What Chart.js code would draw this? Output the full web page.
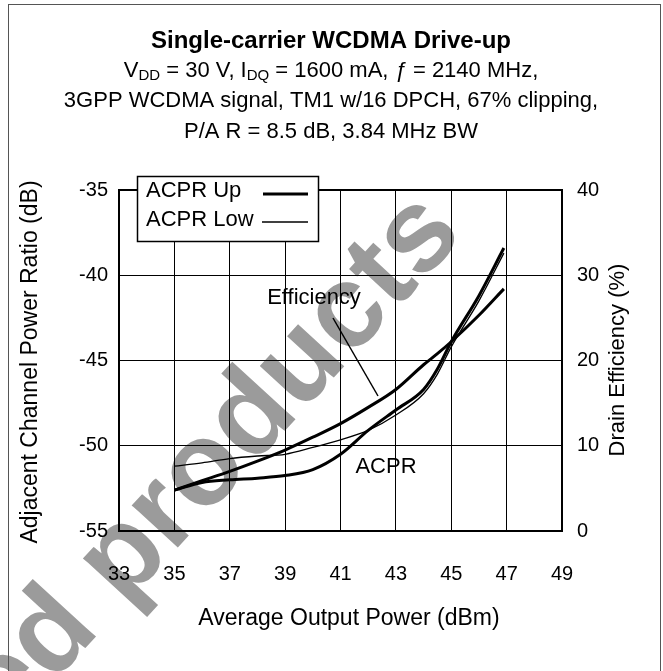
<!DOCTYPE html>
<html>
<head>
<meta charset="utf-8">
<script src="https://cdn.jsdelivr.net/npm/chart.js@4/dist/chart.umd.min.js"></script>
<style>
  body { margin: 0; background: #fff; }
  canvas { display: block; }
</style>
</head>
<body>
<canvas id="driveUp" width="663" height="671"></canvas>
<script>
const ctx = document.getElementById("driveUp");

// dados
const potencia = [35, 36, 37, 38, 39, 40, 41, 42, 43, 44, 44.5, 45, 46, 46.9];
const acprUp = [-52.6, -52.15, -52.0, -51.9, -51.75, -51.4, -50.5, -49.1, -47.9, -46.7, -45.5, -43.9, -41.2, -38.4];
const acprLow = [-51.2, -51.0, -50.75, -50.6, -50.5, -50.1, -49.65, -49.1, -48.2, -46.95, -45.8, -44.2, -41.5, -38.7];
const eficiencia = [4.8, 5.9, 7.0, 8.2, 9.5, 11.0, 12.6, 14.5, 16.6, 19.5, 20.8, 22.2, 25.3, 28.4];

const xTicks = [33, 35, 37, 39, 41, 43, 45, 47, 49];
const yTicks = [-55, -50, -45, -40, -35];
const y2Ticks = [0, 10, 20, 30, 40];

const fonte = '"Liberation Sans", Arial, sans-serif';

function pontos(ys) {
  return potencia.map((x, i) => ({ x: x, y: ys[i] }));
}

function linhaRica(c, partes, cx, y) {
  let total = 0;
  partes.forEach(p => { c.font = p.f; total += c.measureText(p.t).width; });
  let x = cx - total / 2;
  partes.forEach(p => {
    c.font = p.f;
    c.fillText(p.t, x, y + (p.dy || 0));
    x += c.measureText(p.t).width;
  });
}

const desenho = {
  id: "desenho",
  beforeDraw(chart) {
    const c = chart.ctx;
    // marca d'agua
    c.save();
    c.translate(8, 732);
    c.rotate(-47.4 * Math.PI / 180);
    c.fillStyle = "#9b9b9b";
    c.font = "bold 118px " + fonte;
    c.textBaseline = "alphabetic";
    c.fillText("ed products", 0, 0);
    c.restore();
    // moldura
    c.save();
    c.strokeStyle = "#555";
    c.lineWidth = 1;
    c.strokeRect(8.5, 4.5, 652, 700);
    c.restore();
  },
  beforeDatasetsDraw(chart) {
    const c = chart.ctx;
    const a = chart.chartArea;
    c.save();
    c.strokeStyle = "#000";
    c.lineWidth = 2;
    c.strokeRect(a.left, a.top, a.right - a.left, a.bottom - a.top);
    c.restore();
  },
  afterDraw(chart) {
    const c = chart.ctx;
    c.save();
    c.fillStyle = "#000";
    c.textAlign = "center";
    c.textBaseline = "middle";

    // titulo
    c.font = "bold 24px " + fonte;
    c.fillText("Single-carrier WCDMA Drive-up", 331, 41);
    c.textAlign = "left";
    const f = "22px " + fonte;
    const fs = "15px " + fonte;
    linhaRica(c, [
      { t: "V", f: f }, { t: "DD", f: fs, dy: 5 },
      { t: " = 30 V, I", f: f }, { t: "DQ", f: fs, dy: 5 },
      { t: " = 1600 mA, ", f: f }, { t: "ƒ", f: "italic 22px " + fonte },
      { t: " = 2140 MHz,", f: f }
    ], 331, 71);
    c.textAlign = "center";
    c.font = f;
    c.fillText("3GPP WCDMA signal, TM1 w/16 DPCH, 67% clipping,", 331, 101);
    c.fillText("P/A R = 8.5 dB, 3.84 MHz BW", 331, 132);

    // titulos dos eixos
    c.font = "23px " + fonte;
    c.fillText("Average Output Power (dBm)", 349, 619);
    c.save();
    c.translate(31, 362);
    c.rotate(-Math.PI / 2);
    c.fillText("Adjacent Channel Power Ratio (dB)", 0, 0);
    c.restore();
    c.save();
    c.translate(618, 360);
    c.rotate(-Math.PI / 2);
    c.font = "22px " + fonte;
    c.fillText("Drain Efficiency (%)", 0, 0);
    c.restore();

    // legenda
    c.fillStyle = "#fff";
    c.fillRect(137, 176, 182, 66);
    c.strokeStyle = "#000";
    c.lineWidth = 1.5;
    c.strokeRect(137.5, 176.5, 181, 65);
    c.fillStyle = "#000";
    c.textAlign = "left";
    c.font = "22px " + fonte;
    const ds = chart.data.datasets;
    c.fillText(ds[0].label, 146, 191);
    c.fillText(ds[1].label, 146, 220);
    c.lineWidth = 3;
    c.beginPath(); c.moveTo(263, 194); c.lineTo(308, 194); c.stroke();
    c.lineWidth = 1.3;
    c.beginPath(); c.moveTo(262, 222); c.lineTo(308, 222); c.stroke();

    // anotacoes
    c.textAlign = "center";
    c.fillText(ds[2].label, 314, 298);
    c.fillText("ACPR", 386, 467);
    c.lineWidth = 1.5;
    c.beginPath(); c.moveTo(333, 318); c.lineTo(378, 396); c.stroke();
    c.restore();
  }
};

new Chart(ctx, {
  type: "line",
  data: {
    datasets: [
      {
        label: "ACPR Up",
        data: pontos(acprUp),
        borderColor: "#000",
        borderWidth: 3,
        yAxisID: "y",
      },
      {
        label: "ACPR Low",
        data: pontos(acprLow),
        borderColor: "#000",
        borderWidth: 1.3,
        yAxisID: "y",
      },
      {
        label: "Efficiency",
        data: pontos(eficiencia),
        borderColor: "#000",
        borderWidth: 3,
        yAxisID: "y2",
      },
    ],
  },
  options: {
    responsive: false,
    animation: false,
    devicePixelRatio: 1,
    layout: { padding: { top: 190, left: 0, right: 0, bottom: 0 } },
    elements: {
      point: { radius: 0 },
      line: { cubicInterpolationMode: "monotone", fill: false },
    },
    plugins: {
      legend: { display: false },
      title: { display: false },
      tooltip: { enabled: false },
    },
    scales: {
      x: {
        type: "linear",
        min: 33,
        max: 49,
        afterFit: (s) => { s.height = 140; },
        afterBuildTicks: (s) => { s.ticks = xTicks.map((v) => ({ value: v })); },
        grid: { color: "#000", lineWidth: 1, drawTicks: false },
        border: { display: false },
        ticks: { color: "#000", padding: 31, font: { family: fonte, size: 20 } },
      },
      y: {
        position: "left",
        min: -55,
        max: -35,
        afterFit: (s) => { s.width = 119; },
        afterBuildTicks: (s) => { s.ticks = yTicks.map((v) => ({ value: v })); },
        grid: { color: "#000", lineWidth: 1, drawTicks: false },
        border: { display: false },
        ticks: { color: "#000", padding: 11, font: { family: fonte, size: 20 } },
      },
      y2: {
        position: "right",
        min: 0,
        max: 40,
        afterFit: (s) => { s.width = 101; },
        afterBuildTicks: (s) => { s.ticks = y2Ticks.map((v) => ({ value: v })); },
        grid: { display: false, drawTicks: false },
        border: { display: false },
        ticks: { color: "#000", padding: 15, font: { family: fonte, size: 20 } },
      },
    },
  },
  plugins: [desenho],
});
</script>
</body>
</html>
